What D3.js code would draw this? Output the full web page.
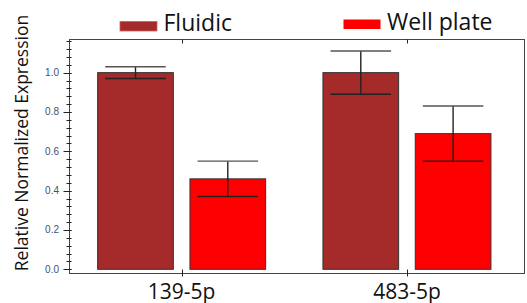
<!DOCTYPE html>
<html>
<head>
<meta charset="utf-8">
<script src="https://cdn.jsdelivr.net/npm/d3@7"></script>
<style>
  html, body { margin: 0; padding: 0; background: #fff; }
  svg { display: block; }
</style>
</head>
<body>
<div id="chart"></div>
<script>
// values
var categories = ["139-5p", "483-5p"];
var seriesNames = ["Fluidic", "Well plate"];
var fluidic = [1.0, 1.0];
var fluidicErr = [0.03, 0.11];
var wellPlate = [0.46, 0.69];
var wellPlateErr = [0.09, 0.14];
var yTicks = [0.0, 0.2, 0.4, 0.6, 0.8, 1.0];

var colors = {"Fluidic": "#a52a2a", "Well plate": "#ff0000"};

var width = 527, height = 303;
var frameL = 69.5, frameR = 524.5, frameT = 39.5, frameB = 273.5;

var svg = d3.select("#chart").append("svg")
    .attr("width", width)
    .attr("height", height);

var x0 = d3.scaleBand().domain(categories).range([69, 519.6]);
var x1 = d3.scaleBand().domain(seriesNames).range([-84, 84]).paddingInner(0.18);
var y = d3.scaleLinear().domain([0, 1.17]).range([269.3, 39.2]);

var rows = [];
categories.forEach(function(c, i) {
    rows.push({cat: c, s: "Fluidic", v: fluidic[i], e: fluidicErr[i]});
    rows.push({cat: c, s: "Well plate", v: wellPlate[i], e: wellPlateErr[i]});
});

function cx(d) { return x0(d.cat) + x0.bandwidth() / 2 + x1(d.s); }

// frame
svg.append("rect")
    .attr("x", frameL).attr("y", frameT)
    .attr("width", frameR - frameL).attr("height", frameB - frameT)
    .attr("fill", "none")
    .attr("stroke", "#444")
    .attr("stroke-width", 1);

// bars
svg.selectAll(".bar")
    .data(rows)
    .enter().append("rect")
    .attr("class", "bar")
    .attr("x", d => cx(d))
    .attr("y", d => y(d.v))
    .attr("width", x1.bandwidth())
    .attr("height", d => y(0) - y(d.v))
    .attr("fill", d => colors[d.s])
    .attr("stroke", "#333")
    .attr("stroke-width", 1);

// error bars
var capW = x1.bandwidth() * 0.8;
var err = svg.selectAll(".err")
    .data(rows)
    .enter().append("g")
    .attr("class", "err")
    .attr("stroke", "#222")
    .attr("stroke-width", 1.4);
err.append("line")
    .attr("x1", d => cx(d) + x1.bandwidth() / 2)
    .attr("x2", d => cx(d) + x1.bandwidth() / 2)
    .attr("y1", d => y(d.v + d.e))
    .attr("y2", d => y(d.v - d.e));
err.append("line")
    .attr("stroke", "#555")
    .attr("x1", d => cx(d) + x1.bandwidth() / 2 - capW / 2)
    .attr("x2", d => cx(d) + x1.bandwidth() / 2 + capW / 2)
    .attr("y1", d => y(d.v + d.e))
    .attr("y2", d => y(d.v + d.e));
err.append("line")
    .attr("x1", d => cx(d) + x1.bandwidth() / 2 - capW / 2)
    .attr("x2", d => cx(d) + x1.bandwidth() / 2 + capW / 2)
    .attr("y1", d => y(d.v - d.e))
    .attr("y2", d => y(d.v - d.e));

// y ticks: minor every 0.04, majors labelled
var minor = d3.range(0, 1.17, 0.04);
svg.selectAll(".minor")
    .data(minor)
    .enter().append("line")
    .attr("x1", frameL - 3).attr("x2", frameL + 2)
    .attr("y1", d => Math.round(y(d)) + 0.5)
    .attr("y2", d => Math.round(y(d)) + 0.5)
    .attr("stroke", "#222");
svg.selectAll(".major")
    .data(yTicks)
    .enter().append("line")
    .attr("x1", frameL - 6).attr("x2", frameL + 2)
    .attr("y1", d => Math.round(y(d)) + 0.5)
    .attr("y2", d => Math.round(y(d)) + 0.5)
    .attr("stroke", "#222");
svg.selectAll(".ylab")
    .data(yTicks)
    .enter().append("text")
    .attr("x", 59)
    .attr("y", d => y(d) + 3.5)
    .attr("text-anchor", "end")
    .attr("font-family", "Liberation Sans, Arial, sans-serif")
    .attr("font-size", 10)
    .attr("fill", "#44506e")
    .text(d => d.toFixed(1));

// x ticks (top and bottom)
svg.selectAll(".xt")
    .data(categories)
    .enter().append("line")
    .attr("x1", d => Math.round(x0(d) + x0.bandwidth() / 2) + 0.5)
    .attr("x2", d => Math.round(x0(d) + x0.bandwidth() / 2) + 0.5)
    .attr("y1", frameB - 4).attr("y2", frameB + 3)
    .attr("stroke", "#222");
svg.selectAll(".xtt")
    .data(categories)
    .enter().append("line")
    .attr("x1", d => Math.round(x0(d) + x0.bandwidth() / 2) + 0.5)
    .attr("x2", d => Math.round(x0(d) + x0.bandwidth() / 2) + 0.5)
    .attr("y1", frameT).attr("y2", frameT + 4)
    .attr("stroke", "#222");

svg.selectAll(".xlab")
    .data(categories)
    .enter().append("text")
    .attr("x", d => x0(d) + x0.bandwidth() / 2)
    .attr("y", 298.5)
    .attr("text-anchor", "middle")
    .attr("font-family", "Open Sans, sans-serif")
    .attr("font-size", 21)
    .attr("fill", "#111")
    .text(d => d);

// y title
svg.append("text")
    .attr("transform", "translate(28,143) rotate(-90)")
    .attr("text-anchor", "middle")
    .attr("font-family", "Open Sans, sans-serif")
    .attr("font-size", 17.5)
    .attr("fill", "#111")
    .text("Relative Normalized Expression");

// legend
var legendPos = [{x: 120, y: 21.5, ty: 31}, {x: 343.5, y: 19.5, ty: 29.5}];
seriesNames.forEach(function(s, i) {
    var p = legendPos[i];
    svg.append("rect")
        .attr("x", p.x).attr("y", p.y)
        .attr("width", 37).attr("height", 9.5)
        .attr("fill", colors[s])
        .attr("stroke", i == 0 ? "#c86060" : "none")
        .attr("stroke-width", 0.8);
    svg.append("text")
        .attr("x", p.x + 43.5)
        .attr("y", p.ty)
        .attr("font-family", "Open Sans, sans-serif")
        .attr("font-size", 23)
        .attr("fill", "#111")
        .text(s);
});
</script>
</body>
</html>
